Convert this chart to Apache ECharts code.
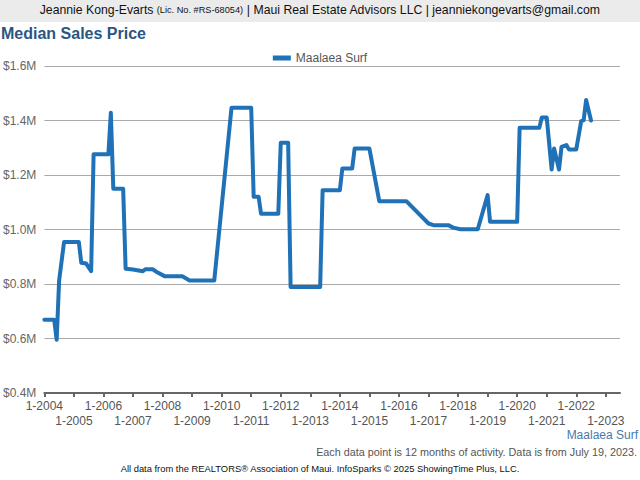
<!DOCTYPE html>
<html>
<head>
<meta charset="utf-8">
<script src="https://cdn.jsdelivr.net/npm/echarts@6/dist/echarts.min.js"></script>
<style>
html,body{margin:0;padding:0;background:#fff;}
#chart{width:640px;height:480px;}
</style>
</head>
<body>
<div id="chart"></div>
<script>
// Month labels (YYYY-MM) and median sales price in $M
const months = [
  '2004-01','2004-05','2004-06','2004-07','2004-09','2005-03','2005-04','2005-06','2005-08','2005-09',
  '2006-03','2006-04','2006-05','2006-09','2006-10','2007-01','2007-05','2007-06','2007-09','2007-11',
  '2008-02','2008-09','2008-12','2009-10','2010-05','2011-01','2011-02','2011-04','2011-05','2011-12',
  '2012-01','2012-04','2012-05','2013-05','2013-06','2014-01','2014-02','2014-06','2014-07','2015-01',
  '2015-05','2016-04','2017-01','2017-03','2017-09','2017-11','2018-02','2018-09','2019-01','2019-02',
  '2020-01','2020-02','2020-10','2020-11','2021-01','2021-03','2021-04','2021-06','2021-07','2021-09',
  '2021-10','2022-01','2022-03','2022-04','2022-05','2022-07'
];
const prices = [
  0.669,0.669,0.595,0.813,0.954,0.954,0.878,0.875,0.847,1.276,
  1.276,1.428,1.150,1.150,0.856,0.853,0.847,0.854,0.854,0.842,
  0.828,0.828,0.813,0.813,1.447,1.447,1.120,1.120,1.058,1.058,
  1.318,1.318,0.789,0.789,1.144,1.144,1.224,1.224,1.297,1.297,
  1.104,1.104,1.022,1.016,1.016,1.007,1.001,1.001,1.126,1.028,
  1.028,1.373,1.373,1.411,1.411,1.220,1.297,1.220,1.303,1.310,
  1.294,1.294,1.398,1.401,1.475,1.400
];
const tickYears = [2004,2005,2006,2007,2008,2009,2010,2011,2012,2013,2014,2015,2016,2017,2018,2019,2020,2021,2022,2023];
const seriesName = 'Maalaea Surf';

function toYear(m){ const p = m.split('-'); return +p[0] + (+p[1]-1)/12; }
const seriesData = months.map((m,i)=>[toYear(m), prices[i]]);

const FONT = '"Liberation Sans", Arial, sans-serif';
const X_MIN = 2004, X_MAX = 2023.48;
function yearLabel(v, even){
  const y = Math.round(v);
  if (Math.abs(v - y) > 1e-6 || tickYears.indexOf(y) < 0) return '';
  return ((y % 2 === 0) === even) ? ('1-' + y) : '';
}
const chart = echarts.init(document.getElementById('chart'), null, {renderer:'svg'});
chart.setOption({
  backgroundColor:'#ffffff',
  animation:false,
  graphic:[
    {type:'rect', left:0, top:0, shape:{width:640, height:22}, style:{fill:'#ebebeb'}, z:-1}
  ],
  title:[
    {
      text:'{a|Jeannie Kong-Evarts }{b|(Lic. No. #RS-68054)}{a| | Maui Real Estate Advisors LLC | jeanniekongevarts@gmail.com}',
      left:'center', top:4, padding:0,
      textStyle:{fontWeight:'normal', rich:{
        a:{fontFamily:FONT, fontSize:12.25, fontWeight:'normal', color:'#111'},
        b:{fontFamily:FONT, fontSize:9.2, fontWeight:'normal', color:'#111'}
      }}
    },
    {text:'Median Sales Price', left:1, top:25, padding:0,
     textStyle:{fontFamily:FONT, fontSize:16, fontWeight:'bold', color:'#2b5683'}},
    {text:seriesName, right:2, top:429, padding:0,
     textStyle:{fontFamily:FONT, fontSize:12, fontWeight:'normal', color:'#4a78ad'}},
    {text:'Each data point is 12 months of activity. Data is from July 19, 2023.', right:3, top:446, padding:0,
     textStyle:{fontFamily:FONT, fontSize:10.8, fontWeight:'normal', color:'#555'}},
    {text:'All data from the REALTORS® Association of Maui. InfoSparks © 2025 ShowingTime Plus, LLC.', left:'center', top:464, padding:0,
     textStyle:{fontFamily:FONT, fontSize:9.4, fontWeight:'normal', color:'#111'}}
  ],
  legend:{
    data:[seriesName], top:47, left:'center', itemWidth:18, itemHeight:5, itemGap:6,
    icon:'rect',
    textStyle:{fontFamily:FONT, fontSize:12, color:'#555'}
  },
  grid:{left:44, right:20, top:66, bottom:87, containLabel:false},
  xAxis:[
    {
      type:'value', min:X_MIN, max:X_MAX, interval:1, position:'bottom',
      axisLine:{show:true, onZero:false, lineStyle:{color:'#666', width:2}},
      axisTick:{show:true, customValues:tickYears, length:4, inside:false, lineStyle:{color:'#666', width:2}},
      splitLine:{show:false},
      axisLabel:{
        margin:7, showMinLabel:true, showMaxLabel:true, hideOverlap:false,
        fontFamily:FONT, fontSize:12, color:'#555',
        formatter:function(v){ return yearLabel(v, true); }
      }
    },
    {
      type:'value', min:X_MIN, max:X_MAX, interval:1, position:'bottom', offset:0,
      axisLine:{show:false, onZero:false}, axisTick:{show:false}, splitLine:{show:false},
      axisLabel:{
        margin:22, showMinLabel:true, showMaxLabel:true, hideOverlap:false,
        fontFamily:FONT, fontSize:12, color:'#555',
        formatter:function(v){ return yearLabel(v, false); }
      }
    }
  ],
  yAxis:{
    type:'value', min:0.4, max:1.6, interval:0.2,
    axisLine:{show:false}, axisTick:{show:false},
    splitLine:{lineStyle:{color:'#aaa', width:1}},
    axisLabel:{fontFamily:FONT, fontSize:12, color:'#666', margin:8,
      formatter:function(v){ return '$'+v.toFixed(1)+'M'; }}
  },
  series:[{
    name:seriesName, type:'line', data:seriesData, xAxisIndex:0,
    showSymbol:false, symbol:'none',
    lineStyle:{color:'#1f72b8', width:4, cap:'round', join:'round'},
    itemStyle:{color:'#1f72b8'}
  }]
});
</script>
</body>
</html>
